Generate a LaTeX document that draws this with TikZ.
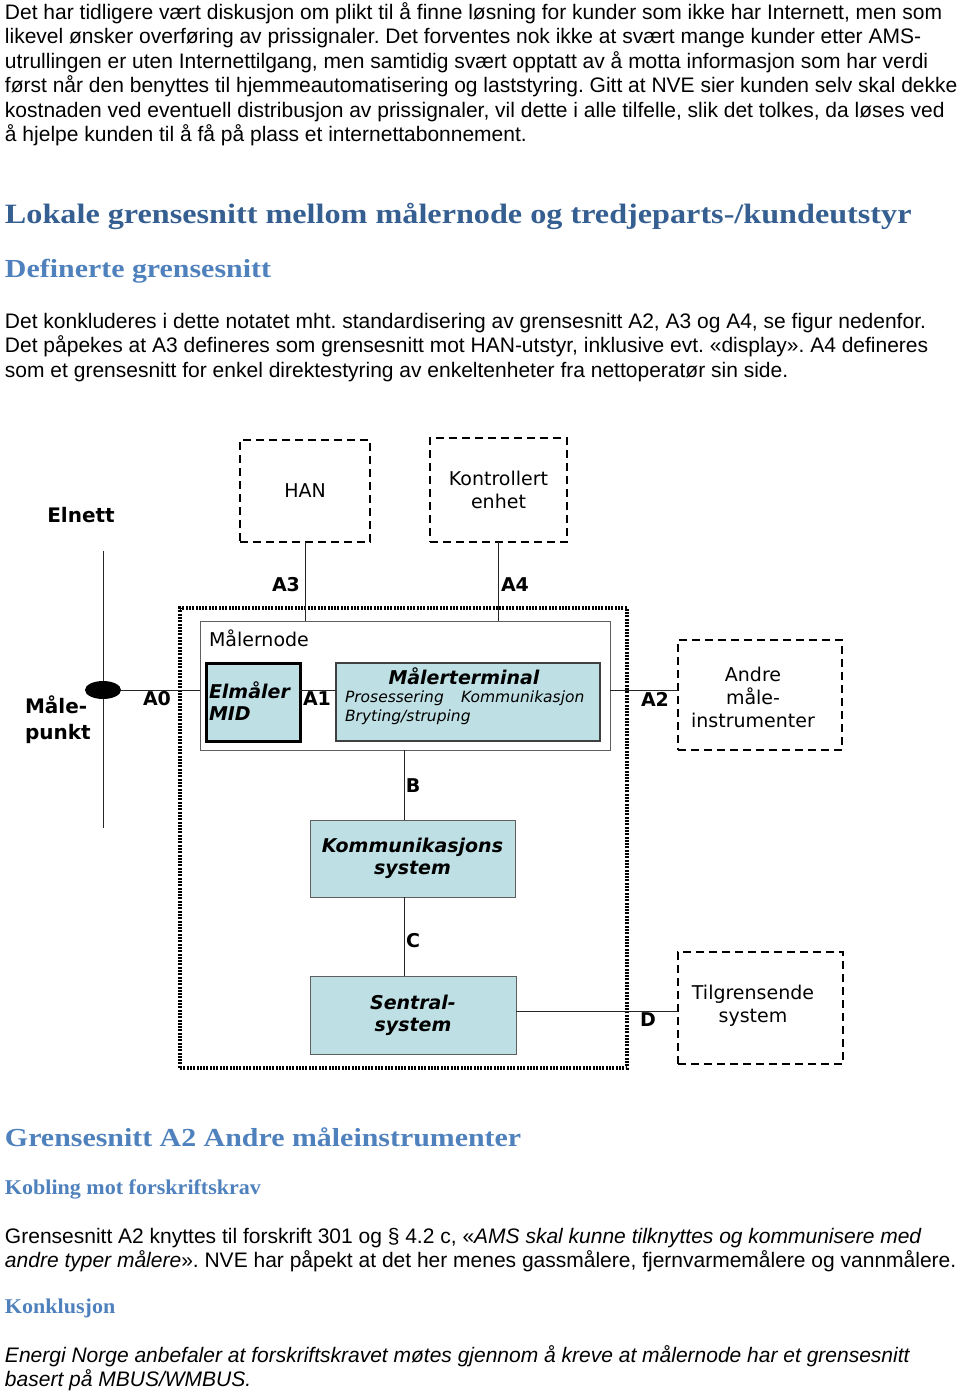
\documentclass[tikz,border=0pt]{standalone}
\usepackage{fontspec}
\setmainfont{Liberation Sans}
\newfontfamily\headfont[FakeStretch=1.15]{Liberation Serif}
\newfontfamily\subheadfont[FakeStretch=1.05]{Liberation Serif}
\newfontfamily\diafont{DejaVu Sans}
\usetikzlibrary{shapes.geometric}
\definecolor{headdark}{RGB}{54,95,145}
\definecolor{headlight}{RGB}{79,129,189}
\definecolor{boxblue}{RGB}{190,224,228}
\definecolor{edgegray}{RGB}{95,95,95}
\frenchspacing

\begin{document}
\begin{tikzpicture}[x=1pt, y=-1pt]
\tikzstyle{every node} = [inner sep=0pt, outer sep=0pt]
\tikzstyle{bodytext} = [anchor=base west, font=\fontsize{21}{25}\selectfont]
\tikzstyle{headone} = [anchor=base west, text=headdark, font=\headfont\bfseries\fontsize{28}{32}\selectfont]
\tikzstyle{headtwo} = [anchor=base west, text=headlight, font=\headfont\bfseries\fontsize{26}{30}\selectfont]
\tikzstyle{headthree} = [anchor=base west, text=headlight, font=\subheadfont\bfseries\fontsize{21}{25}\selectfont]
\tikzstyle{dashbox} = [draw, line width=2.4pt, dash pattern=on 8pt off 5pt, align=center, font=\diafont\fontsize{19}{23}\selectfont]
\tikzstyle{dotbox} = [draw, line width=3.2pt, dash pattern=on 2pt off 1.3pt]
\tikzstyle{bluebox} = [draw=edgegray, line width=1pt, fill=boxblue, align=center]
\tikzstyle{boxtext} = [align=center, font=\diafont\bfseries\itshape\fontsize{19}{22}\selectfont]
\tikzstyle{iflabel} = [font=\diafont\bfseries\fontsize{19}{22}\selectfont]
\tikzstyle{wire} = [draw=black!85, line width=0.8pt]

\useasboundingbox (0,0) rectangle (960,1393);

% intro paragraph
\foreach \line [count=\i from 0] in {{Det har tidligere vært diskusjon om plikt til å finne løsning for kunder som ikke har Internett, men som},
  {likevel ønsker overføring av prissignaler. Det forventes nok ikke at svært mange kunder etter AMS-},
  {utrullingen er uten Internettilgang, men samtidig svært opptatt av å motta informasjon som har verdi},
  {først når den benyttes til hjemmeautomatisering og laststyring. Gitt at NVE sier kunden selv skal dekke},
  {kostnaden ved eventuell distribusjon av prissignaler, vil dette i alle tilfelle, slik det tolkes, da løses ved},
  {å hjelpe kunden til å få på plass et internettabonnement.}}
{
  \node[bodytext] (intro\i) at (5,19.5+24.4*\i) {\line};
}

\node[headone] (lokale) at (5,223) {Lokale grensesnitt mellom målernode og tredjeparts-/kundeutstyr};
\node[headtwo] (definerte) at (5,277) {Definerte grensesnitt};

\foreach \line [count=\i from 0] in {{Det konkluderes i dette notatet mht. standardisering av grensesnitt A2, A3 og A4, se figur nedenfor.},
  {Det påpekes at A3 defineres som grensesnitt mot HAN-utstyr, inklusive evt. «display». A4 defineres},
  {som et grensesnitt for enkel direktestyring av enkeltenheter fra nettoperatør sin side.}}
{
  \node[bodytext] (konkl\i) at (5,328.5+24.4*\i) {\line};
}

% --- the figure ---
\node[dotbox, minimum width=447, minimum height=460] (ams) at (403.5,838) {};
\node[draw=edgegray, line width=1pt, fill=white, minimum width=410, minimum height=129] (malernode) at (405,685.5) {};
\node[anchor=west, font=\diafont\fontsize{19}{22}\selectfont] (malernodetxt) at (209,638) {Målernode};

\node[dashbox, minimum width=130, minimum height=102] (han) at (305,491) {HAN};
\node[dashbox, minimum width=137, minimum height=104] (kontroll) at (498.5,490) {Kontrollert\\enhet};
\node[dashbox, minimum width=164, minimum height=110] (andre) at (760,695) {};
\node[align=center, font=\diafont\fontsize{19}{23}\selectfont] (andretxt) at (753,697) {Andre\\måle-\\instrumenter};
\node[dashbox, minimum width=165, minimum height=112] (tilgr) at (760.5,1008) {};
\node[align=center, font=\diafont\fontsize{19}{23}\selectfont] (tilgrtxt) at (753,1006) {Tilgrensende\\system};

\node[bluebox, draw=black, line width=3pt, minimum width=94, minimum height=78] (elmaler) at (253,702) {};
\node[boxtext, align=left, anchor=west] (elmalertxt) at (209,701) {Elmåler\\MID};
\node[bluebox, draw=black!75, line width=1.5pt, minimum width=264, minimum height=78] (terminal) at (468,702) {};
\node[boxtext] (termtitle) at (464,676) {Målerterminal};
\node[anchor=base west, font=\diafont\itshape\fontsize{15.5}{18}\selectfont] (prosess) at (345,702) {Prosessering};
\node[anchor=base west, font=\diafont\itshape\fontsize{15.5}{18}\selectfont] (kommtxt) at (461,702) {Kommunikasjon};
\node[anchor=base west, font=\diafont\itshape\fontsize{15.5}{18}\selectfont] (bryt) at (345,721) {Bryting/struping};

\node[bluebox, boxtext, minimum width=205, minimum height=77] (kommsys) at (412.5,858.5) {Kommunikasjons\\system};
\node[bluebox, boxtext, minimum width=206, minimum height=78] (sentral) at (413,1015) {Sentral-\\system};

\node[font=\diafont\bfseries\fontsize{20}{24}\selectfont] (elnett) at (81,515) {Elnett};
\node[anchor=west, align=left, font=\diafont\bfseries\fontsize{20}{26}\selectfont] (malepunkt) at (25,720) {Måle-\\punkt};
\coordinate (elnetttop) at (103,551);
\coordinate (elnettbot) at (103,828);
\coordinate (bus) at (404,0);

% connectors
\draw[wire] (elnetttop) -- (elnettbot);
\node[ellipse, fill=black, minimum width=36, minimum height=18] (mp) at (103,690) {};
\draw[wire] (mp) -- (mp -| malernode.west); % A0
\draw[wire] (han.south) -- (han.south |- malernode.north); % A3
\draw[wire] (kontroll.south) -- (kontroll.south |- malernode.north); % A4
\draw[wire] (elmaler.east |- mp) -- (terminal.west |- mp); % A1
\draw[wire] (malernode.east |- mp) -- (andre.west |- mp); % A2
\draw[wire] (malernode.south -| bus) -- (kommsys.north -| bus); % B
\draw[wire] (kommsys.south -| bus) -- (sentral.north -| bus); % C
\draw[wire] (sentral.east |- 0,1011) -- (tilgr.west |- 0,1011); % D

\node[iflabel] (lbla0) at (157,699) {A0};
\node[iflabel] (lbla1) at (317,699) {A1};
\node[iflabel] (lbla2) at (655,699) {A2};
\node[iflabel] (lbla3) at (286,585) {A3};
\node[iflabel] (lbla4) at (515,585) {A4};
\node[iflabel] (lblb) at (413,786) {B};
\node[iflabel] (lblc) at (413,941) {C};
\node[iflabel] (lbld) at (648,1020) {D};

% --- after the figure ---
\node[headtwo] (grense) at (5,1146) {Grensesnitt A2 Andre måleinstrumenter};
\node[headthree] (kobling) at (5,1194) {Kobling mot forskriftskrav};
\node[bodytext] (krav0) at (5,1243.5) {Grensesnitt A2 knyttes til forskrift 301 og § 4.2 c, «\textit{AMS skal kunne tilknyttes og kommunisere med}};
\node[bodytext] (krav1) at (5,1267.9) {\textit{andre typer målere}». NVE har påpekt at det her menes gassmålere, fjernvarmemålere og vannmålere.};
\node[headthree] (konklusjon) at (5,1313) {Konklusjon};
\node[bodytext, font=\itshape\fontsize{21}{25}\selectfont] (anbef0) at (5,1362.5) {Energi Norge anbefaler at forskriftskravet møtes gjennom å kreve at målernode har et grensesnitt};
\node[bodytext, font=\itshape\fontsize{21}{25}\selectfont] (anbef1) at (5,1386.9) {basert på MBUS/WMBUS.};
\end{tikzpicture}
\end{document}
